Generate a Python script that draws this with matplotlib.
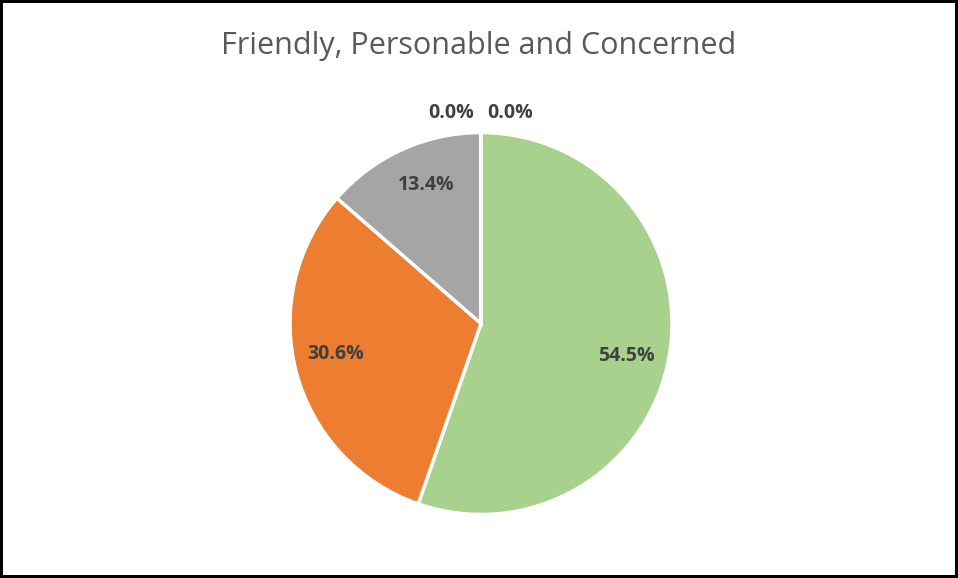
import numpy as np
import matplotlib.pyplot as plt

# data
title = 'Friendly, Personable and Concerned'
values = [54.5, 30.6, 13.4, 0.0, 0.0]
colors = ['#A9D18E', '#ED7D31', '#A5A5A5', '#FFC000', '#5B9BD5']

plt.rcParams['font.family'] = ['Open Sans', 'DejaVu Sans']

fig = plt.figure(figsize=(9.58, 5.78), dpi=100, linewidth=3, edgecolor='black')
W, H = 958, 578
cx, cy, r = 481, 323.5, 191
ax = fig.add_axes([(cx - r) / W, (H - cy - r) / H, 2 * r / W, 2 * r / H])

wedges, _ = ax.pie(values, colors=colors, startangle=90, counterclock=False,
                   wedgeprops=dict(edgecolor='white', linewidth=2.5))
ax.set_xlim(-1, 1)
ax.set_ylim(-1, 1)
ax.set_aspect('equal')

# labels: inside for real slices, outside at the top for empty ones
total = sum(values)
start = 90.0
zero_side = -1
for v in values:
    sweep = 360.0 * v / total
    mid = np.deg2rad(start - sweep / 2 - 3)
    if v > 0:
        ax.text(0.78 * np.cos(mid), 0.78 * np.sin(mid), f'{v:.1f}%',
                ha='center', va='center', fontsize=14, fontweight='bold',
                color='#404040')
    else:
        ax.text(zero_side * 0.035, 1.1, f'{v:.1f}%',
                ha='right' if zero_side < 0 else 'left', va='center',
                fontsize=14, fontweight='bold', color='#404040')
        zero_side = 1
    start -= sweep

fig.text(0.5, 1 - 46 / H, title, ha='center', va='center', fontsize=22,
         color='#595959')

fig.savefig('out.png', dpi=100)
